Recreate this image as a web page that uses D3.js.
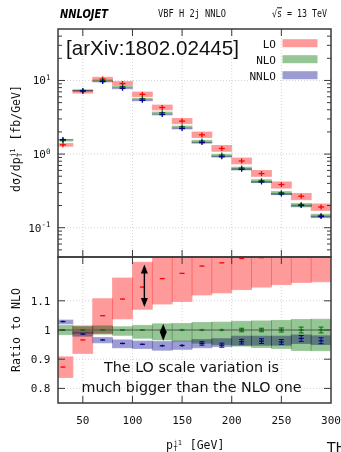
<!DOCTYPE html>
<html><head><meta charset="utf-8">
<script src="https://cdn.jsdelivr.net/npm/d3@7"></script>
<style>
body{margin:0;background:#fff}
svg{display:block}
.band{mix-blend-mode:multiply}
</style></head><body>
<script>
// ---- data ----
const binLow    = [20,40,60,80,100,120,140,160,180,200,220,240,260,280];
const binHigh   = [40,60,80,100,120,140,160,180,200,220,240,260,280,300];
const binCenter = [30,50,70,90,110,130,150,170,190,210,230,250,270,290];
// NLO central cross section [fb/GeV]
const nloValue  = [1.53,7.32,10.0,8.21,5.65,3.65,2.35,1.50,0.969,0.646,0.435,0.299,0.206,0.147];
const nloBandLo = [0.984,0.989,0.986,0.982,0.972,0.966,0.962,0.955,0.950,0.945,0.940,0.937,0.930,0.929];
const nloBandHi = [1.016,1.014,1.014,1.011,1.016,1.021,1.022,1.026,1.027,1.030,1.031,1.033,1.036,1.037];
const nloErr    = [0.002,0.002,0.002,0.002,0.002,0.003,0.004,0.004,0.005,0.006,0.006,0.007,0.010,0.010];
// ratios to NLO
const loRatio   = [0.873,0.966,1.049,1.106,1.147,1.176,1.194,1.219,1.230,1.245,1.248,1.290,1.300,1.300];
const loBandLo  = [0.837,0.920,0.989,1.038,1.071,1.089,1.098,1.120,1.127,1.138,1.147,1.155,1.163,1.165];
const loBandHi  = [0.908,1.011,1.107,1.178,1.232,1.270,1.300,1.330,1.350,1.370,1.380,1.400,1.420,1.430];
const loErr     = [0.001,0.001,0.001,0.001,0.001,0.001,0.001,0.001,0.001,0.001,0.001,0.001,0.001,0.001];
const nnloRatio = [1.029,0.986,0.966,0.954,0.951,0.946,0.947,0.954,0.948,0.960,0.962,0.959,0.971,0.963];
const nnloBandLo= [1.021,0.979,0.956,0.939,0.937,0.931,0.934,0.939,0.943,0.948,0.948,0.948,0.954,0.950];
const nnloBandHi= [1.034,0.993,0.974,0.966,0.962,0.960,0.962,0.967,0.970,0.979,0.979,0.979,0.983,0.980];
const nnloErr   = [0.003,0.003,0.003,0.003,0.003,0.004,0.005,0.006,0.007,0.008,0.008,0.008,0.010,0.010];
const xTicks    = [50,100,150,200,250,300];
const yTopTicks = [0.1,1,10];
const yTopExp   = ["-1","0","1"];
const yRatTicks = [0.8,0.9,1,1.1];
const yRatLabels= ["0.8","0.9","1","1.1"];
const seriesNames = ["LO","NLO","NNLO"];
const bandColors  = ["#ff9a9a","#96c596","#9c9cd3"];
const pointColors = ["#ff0000","#007000","#00008b"];
const arrowBig   = {x:112, y0:1.079, y1:1.224};
const arrowSmall = {x:131, y0:0.963, y1:1.021};

// ---- layout ----
const W=341,H=452, L=58,R=331, T1=29,B1=257, T2=257,B2=403;
const MONO="'DejaVu Sans Mono', monospace";
const svg=d3.select("body").append("svg").attr("width",W).attr("height",H);
const x=d3.scaleLinear().domain([25,300]).range([L,R]);
const yT=d3.scaleLog().domain([0.04,50]).range([B1,T1]);
const yR=d3.scaleLinear().domain([0.75,1.25]).range([B2,T2]);

const defs=svg.append("defs");
defs.append("clipPath").attr("id","c1").append("rect").attr("x",L).attr("y",T1).attr("width",R-L).attr("height",B1-T1);
defs.append("clipPath").attr("id","c2").append("rect").attr("x",L).attr("y",T2).attr("width",R-L).attr("height",B2-T2);

const idx=d3.range(binLow.length);
const series=[
  {name:"LO", val:loRatio, lo:loBandLo, hi:loBandHi, err:loErr},
  {name:"NLO", val:idx.map(()=>1), lo:nloBandLo, hi:nloBandHi, err:nloErr},
  {name:"NNLO", val:nnloRatio, lo:nnloBandLo, hi:nnloBandHi, err:nnloErr}
];

// ---- grids ----
function grid(g, y0, y1, hvals, yscale){
  g.selectAll(null).data(xTicks.filter(t=>t<300)).enter().append("line")
   .attr("x1",d=>x(d)).attr("x2",d=>x(d)).attr("y1",y0).attr("y2",y1)
   .attr("stroke","#c8c8c8").attr("stroke-width",0.8).attr("stroke-dasharray","1,2");
  g.selectAll(null).data(hvals).enter().append("line")
   .attr("x1",L).attr("x2",R).attr("y1",d=>yscale(d)).attr("y2",d=>yscale(d))
   .attr("stroke","#c8c8c8").attr("stroke-width",0.8).attr("stroke-dasharray","1,2");
}
grid(svg.append("g"),T1,B1,yTopTicks,yT);
grid(svg.append("g"),T2,B2,[0.8,0.9,1.1],yR);

// ---- upper panel ----
const gT=svg.append("g").attr("clip-path","url(#c1)");
series.forEach((s,k)=>{
  gT.append("g").selectAll("rect").data(idx).enter().append("rect").attr("class","band")
    .attr("x",i=>x(binLow[i])).attr("width",i=>x(binHigh[i])-x(binLow[i]))
    .attr("y",i=>yT(nloValue[i]*s.hi[i]))
    .attr("height",i=>yT(nloValue[i]*s.lo[i])-yT(nloValue[i]*s.hi[i]))
    .attr("fill",bandColors[k]).attr("stroke",bandColors[k]).attr("stroke-width",0.8);
});
series.forEach((s,k)=>{
  const g=gT.append("g").attr("stroke",pointColors[k]).attr("stroke-width",1.3);
  idx.forEach(i=>{
    const cx=x(binCenter[i]), cy=yT(nloValue[i]*s.val[i]);
    g.append("line").attr("x1",cx-3).attr("x2",cx+3).attr("y1",cy).attr("y2",cy);
    g.append("line").attr("x1",cx).attr("x2",cx).attr("y1",cy-2.5).attr("y2",cy+2.5);
  });
});

// ---- lower panel ----
const gR=svg.append("g").attr("clip-path","url(#c2)");
series.forEach((s,k)=>{
  gR.append("g").selectAll("rect").data(idx).enter().append("rect").attr("class","band")
    .attr("x",i=>x(binLow[i])).attr("width",i=>x(binHigh[i])-x(binLow[i]))
    .attr("y",i=>yR(s.hi[i])).attr("height",i=>yR(s.lo[i])-yR(s.hi[i]))
    .attr("fill",bandColors[k]).attr("stroke",bandColors[k]).attr("stroke-width",0.8);
});
gR.append("line").attr("x1",L).attr("x2",R).attr("y1",yR(1)).attr("y2",yR(1))
  .attr("stroke","#555").attr("stroke-width",1);
series.forEach((s,k)=>{
  const g=gR.append("g").attr("stroke",pointColors[k]).attr("stroke-width",1.3);
  idx.forEach(i=>{
    const cx=x(binCenter[i]), cy=yR(s.val[i]);
    const ya=yR(s.val[i]+s.err[i]), yb=yR(s.val[i]-s.err[i]);
    g.append("line").attr("x1",cx-2.5).attr("x2",cx+2.5).attr("y1",cy).attr("y2",cy);
    g.append("line").attr("x1",cx).attr("x2",cx).attr("y1",ya).attr("y2",yb).attr("stroke-width",1);
    if (yb-ya>3){
      g.append("line").attr("x1",cx-2.5).attr("x2",cx+2.5).attr("y1",ya).attr("y2",ya).attr("stroke-width",1);
      g.append("line").attr("x1",cx-2.5).attr("x2",cx+2.5).attr("y1",yb).attr("y2",yb).attr("stroke-width",1);
    }
  });
});

// arrows
function dArrow(a){
  const cx=x(a.x), top=yR(a.y1), bot=yR(a.y0), hl=9, hw=3.5;
  svg.append("line").attr("x1",cx).attr("x2",cx).attr("y1",top+hl-1).attr("y2",bot-hl+1)
     .attr("stroke","#000").attr("stroke-width",1.4);
  svg.append("path").attr("d",`M${cx},${top} L${cx-hw},${top+hl} L${cx+hw},${top+hl} Z`).attr("fill","#000");
  svg.append("path").attr("d",`M${cx},${bot} L${cx-hw},${bot-hl} L${cx+hw},${bot-hl} Z`).attr("fill","#000");
}
dArrow(arrowBig); dArrow(arrowSmall);

// annotation
svg.append("text").attr("x",191.5).attr("y",371.5).attr("text-anchor","middle")
  .attr("font-family","'DejaVu Sans', sans-serif").attr("font-size",14.3)
  .attr("textLength",175).attr("lengthAdjust","spacingAndGlyphs")
  .attr("fill","#111").text("The LO scale variation is");
svg.append("text").attr("x",191.5).attr("y",392).attr("text-anchor","middle")
  .attr("font-family","'DejaVu Sans', sans-serif").attr("font-size",14.3)
  .attr("textLength",220).attr("lengthAdjust","spacingAndGlyphs")
  .attr("fill","#111").text("much bigger than the NLO one");

// ---- frames & ticks ----
const axc="#3a3a3a";
function frame(y0,y1){
  svg.append("rect").attr("x",L).attr("y",y0).attr("width",R-L).attr("height",y1-y0)
    .attr("fill","none").attr("stroke",axc).attr("stroke-width",1.5);
}
function xt(y0,y1){
  const g=svg.append("g").attr("stroke",axc).attr("stroke-width",1);
  xTicks.filter(t=>t<300).forEach(t=>{
    g.append("line").attr("x1",x(t)).attr("x2",x(t)).attr("y1",y0).attr("y2",y0+7);
    g.append("line").attr("x1",x(t)).attr("x2",x(t)).attr("y1",y1).attr("y2",y1-7);
  });
}
frame(T1,B1); frame(T2,B2);
xt(T1,B1); xt(T2,B2);
// upper y ticks (log)
{
  const g=svg.append("g").attr("stroke",axc).attr("stroke-width",1);
  const minor=[];
  [0.01,0.1,1,10].forEach(dec=>{for(let m=2;m<=9;m++){const v=m*dec; if(v>0.04&&v<50) minor.push(v);}});
  yTopTicks.forEach(v=>{
    g.append("line").attr("x1",L).attr("x2",L+7).attr("y1",yT(v)).attr("y2",yT(v));
    g.append("line").attr("x1",R).attr("x2",R-7).attr("y1",yT(v)).attr("y2",yT(v));
  });
  minor.forEach(v=>{
    g.append("line").attr("x1",L).attr("x2",L+4).attr("y1",yT(v)).attr("y2",yT(v));
    g.append("line").attr("x1",R).attr("x2",R-4).attr("y1",yT(v)).attr("y2",yT(v));
  });
  yTopTicks.forEach((v,i)=>{
    const t=svg.append("text").attr("x",50.5).attr("y",yT(v)+4).attr("text-anchor","end")
      .attr("font-family",MONO).attr("font-size",11).attr("fill","#111");
    t.append("tspan").text("10");
    t.append("tspan").attr("dy",-4.5).attr("font-size",7.5).text(yTopExp[i]);
  });
}
// ratio y ticks
{
  const g=svg.append("g").attr("stroke",axc).attr("stroke-width",1);
  yRatTicks.forEach((v,i)=>{
    g.append("line").attr("x1",L).attr("x2",L+7).attr("y1",yR(v)).attr("y2",yR(v));
    g.append("line").attr("x1",R).attr("x2",R-7).attr("y1",yR(v)).attr("y2",yR(v));
    svg.append("text").attr("x",50.5).attr("y",yR(v)+4).attr("text-anchor","end")
      .attr("font-family",MONO).attr("font-size",11).attr("fill","#111").text(yRatLabels[i]);
  });
}
// x tick labels
xTicks.forEach(t=>{
  svg.append("text").attr("x",x(t)).attr("y",424).attr("text-anchor","middle")
    .attr("font-family",MONO).attr("font-size",11).attr("fill","#111").text(t);
});

// ---- axis titles ----
function ptLabel(g, x0, pre, post){
  const fs=11.5, cw=fs*0.602, sfs=7;
  g.append("text").attr("x",x0).attr("y",0).attr("font-family",MONO).attr("font-size",fs).attr("fill","#111").text(pre);
  const xs=x0+pre.length*cw+0.5;
  g.append("text").attr("x",xs).attr("y",-4.5).attr("font-family",MONO).attr("font-size",sfs).attr("fill","#111").text("j1");
  g.append("text").attr("x",xs).attr("y",2).attr("font-family",MONO).attr("font-size",sfs).attr("fill","#111").text("T");
  g.append("text").attr("x",xs+2*sfs*0.602+1+cw).attr("y",0).attr("font-family",MONO).attr("font-size",fs).attr("fill","#111").text(post);
}
ptLabel(svg.append("g").attr("transform","translate(19.5,140) rotate(-90)"), -52, "dσ/dp", "[fb/GeV]");
ptLabel(svg.append("g").attr("transform","translate(166,449)"), 0, "p", "[GeV]");
svg.append("text").attr("transform","translate(19.5,330) rotate(-90)").attr("text-anchor","middle")
  .attr("font-family",MONO).attr("font-size",11.5).attr("fill","#111")
  .attr("textLength",84).attr("lengthAdjust","spacingAndGlyphs").text("Ratio to NLO");

// ---- header ----
svg.append("text").attr("x",60).attr("y",17.5).attr("font-family","'DejaVu Sans', sans-serif")
  .attr("font-weight","bold").attr("font-style","italic").attr("font-size",12.5)
  .attr("textLength",48).attr("lengthAdjust","spacingAndGlyphs").attr("fill","#000").text("NNLOJET");
svg.append("text").attr("x",158).attr("y",17.3).attr("font-family",MONO).attr("font-size",10)
  .attr("textLength",68).attr("lengthAdjust","spacingAndGlyphs").attr("fill","#111").text("VBF H 2j NNLO");
{
  const t=svg.append("text").attr("x",272).attr("y",17.3).attr("font-family",MONO).attr("font-size",10)
    .attr("textLength",55).attr("lengthAdjust","spacingAndGlyphs").attr("fill","#111");
  t.append("tspan").text("√");
  t.append("tspan").attr("text-decoration","overline").text("s");
  t.append("tspan").text(" = 13 TeV");
}
// ---- big label ----
svg.append("text").attr("x",66).attr("y",55).attr("font-family","'Liberation Sans', Arial, sans-serif")
  .attr("font-size",20.6).attr("textLength",173).attr("lengthAdjust","spacingAndGlyphs")
  .attr("fill","#111").text("[arXiv:1802.02445]");

// ---- legend ----
seriesNames.forEach((n,k)=>{
  const by=47.7+k*16;
  svg.append("text").attr("x",276).attr("y",by).attr("text-anchor","end")
    .attr("font-family",MONO).attr("font-size",11).attr("fill","#111").text(n);
  svg.append("rect").attr("x",282.5).attr("y",by-8.5).attr("width",35).attr("height",8)
    .attr("fill",bandColors[k]);
});

// cut-off text at bottom right
svg.append("text").attr("x",327).attr("y",452).attr("font-family","'DejaVu Sans', sans-serif")
  .attr("font-size",14).attr("fill","#111").text("TH");
</script>
</body></html>
